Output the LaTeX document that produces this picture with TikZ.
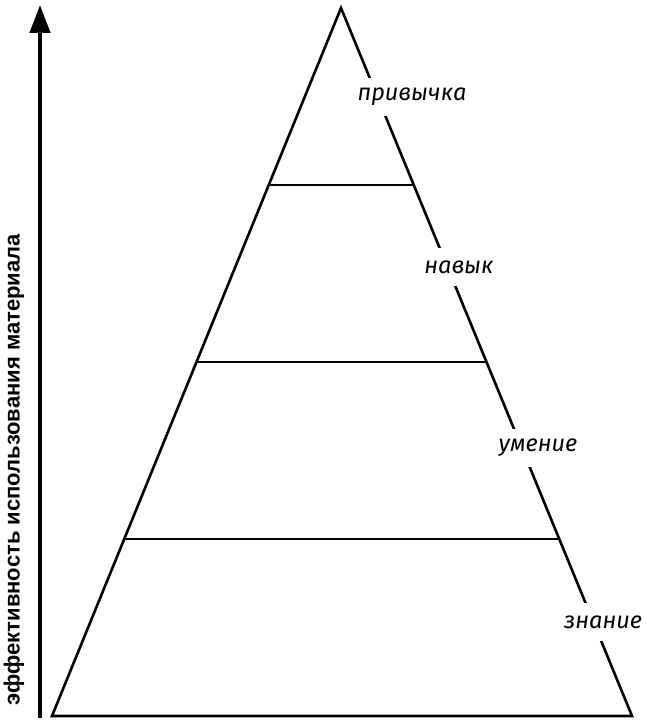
\documentclass[tikz,border=0pt]{standalone}
\usepackage{fontspec}
\newfontfamily\stagefont{Fira Sans}
\newfontfamily\axisfont{Liberation Sans}[UprightFont={* Bold}]
\usetikzlibrary{arrows.meta, calc, positioning}

\begin{document}
\begin{tikzpicture}[
    x=1pt, y=1pt,
    edge/.style={line width=2.6pt, line join=miter},
    stage/.style={fill=white, inner xsep=2pt, minimum height=38pt,
                  font=\stagefont\itshape\fontsize{23.5}{26}\selectfont},
    axis/.style={-{Triangle[length=28pt, width=20pt]}, line width=4.5pt},
    axislabel/.style={rotate=90, font=\axisfont\fontsize{22}{26}\selectfont}
]
    \useasboundingbox (0,0) rectangle (646,720);

    % pyramid
    \coordinate (apex) at (341,712);
    \coordinate (bl) at (52,4);
    \coordinate (br) at (632,4);
    \draw[edge] (bl) -- (apex) -- (br) -- cycle;

    \foreach \t/\n in {0.25/a, 0.5/b, 0.75/c}{
        \coordinate (l\n) at ($(apex)!\t!(bl)$);
        \coordinate (r\n) at ($(apex)!\t!(br)$);
        \draw[edge] (l\n) -- (r\n);
    }

    % levels
    \node[stage] (habit) at (412,623) {привычка};
    \node[stage] (skill) at (459,453) {навык};
    \node[stage] (ability) at (538,272) {умение};
    \node[stage] (knowledge) at (603,98) {знание};

    % axis
    \coordinate (axbot) at (40,2);
    \coordinate (axtop) at (40,715);
    \draw[axis] (axbot) -- (axtop);
    \node[axislabel] (axname) at (14,250) {эффективность использования материала};
\end{tikzpicture}
\end{document}
